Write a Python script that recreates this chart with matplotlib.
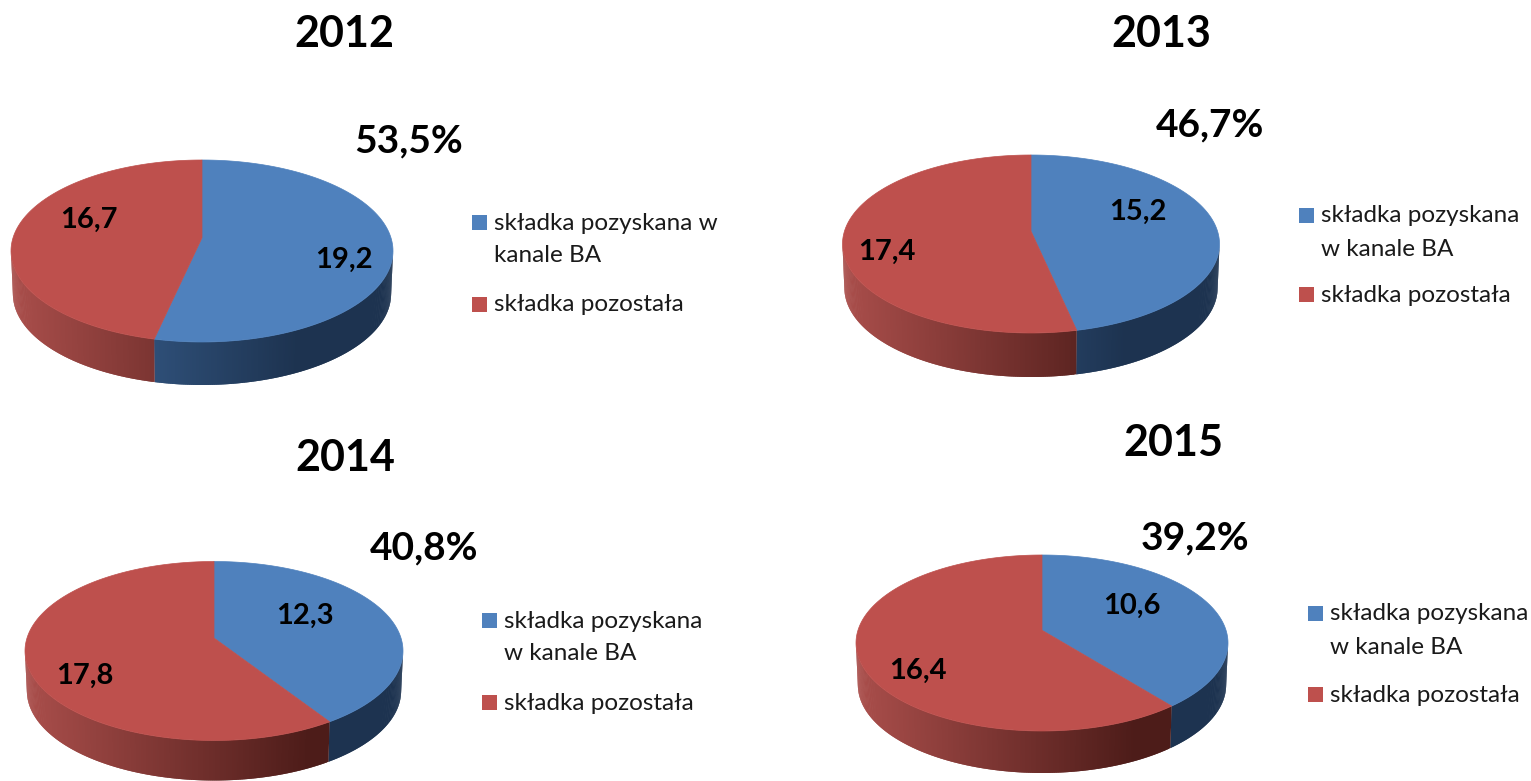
import numpy as np
import matplotlib
matplotlib.use("Agg")
import matplotlib.pyplot as plt
from matplotlib.collections import PolyCollection
from matplotlib.colors import to_rgb
from matplotlib.path import Path
from matplotlib.transforms import Transform, Affine2D

plt.rcParams['font.family'] = ['Lato', 'DejaVu Sans']

years = ['2012', '2013', '2014', '2015']
ba_values = [19.2, 15.2, 12.3, 10.6]
other_values = [16.7, 17.4, 17.8, 16.4]
shares = ['53,5%', '46,7%', '40,8%', '39,2%']
legend_lines = [['składka pozyskana w', 'kanale BA'],
                ['składka pozyskana', 'w kanale BA'],
                ['składka pozyskana', 'w kanale BA'],
                ['składka pozyskana', 'w kanale BA']]
legend_other = 'składka pozostała'

W, H = 1531, 781
# layout in pixels
centers = [(202, 251), (1031, 244), (214, 651), (1042, 643)]
radii = [(191, 91), (188.5, 89), (189, 89.5), (186, 88)]
depths = [43, 44, 40, 42]
title_pos = [(344, 34), (1161, 34), (345, 458), (1173, 443)]
share_pos = [(409, 141), (1210, 125), (424, 548), (1195, 538)]
ba_pos = [(344, 260), (1138, 212), (305, 616), (1132, 606)]
other_pos = [(89, 220), (887, 252), (85, 676), (918, 671)]
legend_pos = [(472, 222), (1299, 215), (482, 620), (1308, 613)]
legend_other_y = [304, 295, 702, 694]

BLUE, RED = '#4f81bd', '#be504d'
side_colors = {BLUE: ('#3f6a9e', '#1d3350'), RED: ('#aa4e4b', '#4d1c19')}
TILT = 0.145  # perspective of the tilted disc

fig = plt.figure(figsize=(W / 100, H / 100), dpi=100, facecolor='white')


def px(x, y):
    return x / W, 1 - y / H


def persp_xy(xy, k=TILT):
    xy = np.asarray(xy, float)
    w = 1 + k * xy[..., 1]
    return np.stack([xy[..., 0] / w * np.sqrt(1 - k * k),
                     xy[..., 1] / w * (1 - k * k) + k], axis=-1)


class Perspective(Transform):
    input_dims = output_dims = 2

    def transform_non_affine(self, values):
        return persp_xy(values)

    def transform_path_non_affine(self, path):
        poly = path.to_polygons(Affine2D().scale(2000), closed_only=True)[0] / 2000
        return Path(persp_xy(poly), closed=True)


def side_wall(ax, a0, a1, color, drop):
    """Front wall between clockwise-from-top angles a0..a1 (degrees)."""
    edges = np.radians(np.linspace(a0, a1, max(int((a1 - a0) * 2), 2) + 1))
    pts = persp_xy(np.stack([np.sin(edges), np.cos(edges)], axis=-1))
    pts = pts[pts[:, 1] <= 0.0]
    if len(pts) < 2:
        return
    x, y = pts[:, 0], pts[:, 1]
    taper = 0.99
    polys, cols = [], []
    c0, c1 = (np.array(to_rgb(c)) for c in side_colors[color])
    n = len(x)
    for i in range(n - 1):
        j = min(i + 2, n - 1)  # overlap the next strip to avoid seams
        polys.append([(x[i], y[i]), (x[j], y[j]),
                      (x[j] * taper, y[j] - drop), (x[i] * taper, y[i] - drop)])
        t = min(((x[i] + x[i + 1]) / 2 + 1) / 2 / 0.75, 1)
        cols.append(c0 + (c1 - c0) * t)
    ax.add_collection(PolyCollection(polys, facecolors=cols,
                                     edgecolors='none', zorder=1, clip_on=False))


for i, year in enumerate(years):
    cx, cy = centers[i]
    rx, ry = radii[i]
    d = depths[i]
    left, bottom = px(cx - rx, cy + ry + d)
    ax = fig.add_axes([left, bottom, 2 * rx / W, (2 * ry + d) / H])
    vals = [ba_values[i], other_values[i]]
    wedges, _ = ax.pie(vals, colors=[BLUE, RED], startangle=90, counterclock=False, radius=1,
                       wedgeprops={'linewidth': 0.5, 'zorder': 3, 'clip_on': False})
    ax.set_aspect('auto')
    ax.set_xlim(-1, 1)
    ax.set_ylim(-1 - d / ry, 1)
    for w, col in zip(wedges, [BLUE, RED]):
        w.set_edgecolor(col)
        w.set_transform(Perspective() + ax.transData)
    boundary = 360 * vals[0] / sum(vals)
    drop = d / ry
    side_wall(ax, 0, boundary, BLUE, drop)
    side_wall(ax, boundary, 360, RED, drop)

    kw = dict(ha='center', va='center', color='black', fontweight='bold')
    fig.text(*px(*title_pos[i]), year, fontsize=31, **kw)
    fig.text(*px(*share_pos[i]), shares[i], fontsize=28, **kw)
    fig.text(*px(*ba_pos[i]), f'{ba_values[i]:.1f}'.replace('.', ','), fontsize=21, **kw)
    fig.text(*px(*other_pos[i]), f'{other_values[i]:.1f}'.replace('.', ','), fontsize=21, **kw)

    lx, ly = legend_pos[i]
    s = 15
    for yy, col in ((ly, BLUE), (legend_other_y[i], RED)):
        fig.patches.append(plt.Rectangle(px(lx, yy + s / 2), s / W, s / H, color=col,
                                         transform=fig.transFigure, figure=fig, lw=0))
    t = dict(ha='left', va='center', color='#1a1a1a', fontsize=17.5)
    fig.text(*px(lx + 22, ly + 1), legend_lines[i][0], **t)
    fig.text(*px(lx + 22, ly + 34), legend_lines[i][1], **t)
    fig.text(*px(lx + 22, legend_other_y[i] + 1), legend_other, **t)

fig.savefig('out.png', dpi=100)
